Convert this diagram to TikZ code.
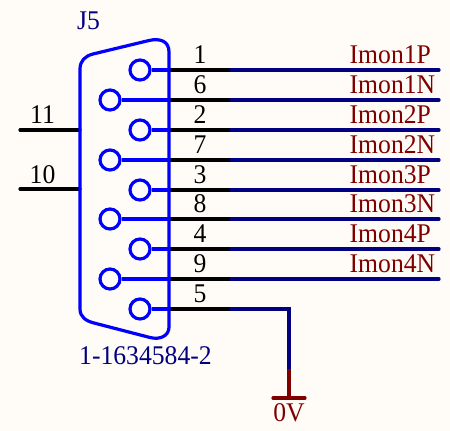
\documentclass[tikz,border=0pt]{standalone}
\usepackage{fontspec}
\setmainfont[FakeStretch=0.95]{Liberation Serif}
\definecolor{bgc}{HTML}{FFFCF8}
\definecolor{pinblue}{HTML}{0000FF}
\definecolor{wireblue}{HTML}{000080}
\definecolor{netred}{HTML}{800000}
\tikzset{
  bodyline/.style={draw=pinblue,line width=3.2pt,line join=round},
  pinhole/.style={circle,draw=pinblue,line width=3.2pt,fill=none,minimum size=20pt,inner sep=0pt},
  pinwire/.style={draw=pinblue,line width=3.2pt},
  stub/.style={draw=black,line width=3.2pt},
  wire/.style={draw=wireblue,line width=3.2pt},
  rwire/.style={draw=netred,line width=3.2pt},
  txt/.style={font=\fontsize{27}{27}\selectfont,inner sep=0pt,text height=17pt,text depth=0pt},
  pinnum/.style={txt,text=black,anchor=south},
  netlab/.style={txt,text=netred,anchor=south west},
  partlab/.style={txt,text=wireblue,anchor=south west},
}
\begin{document}
\begin{tikzpicture}[x=1pt,y=-1pt]
\useasboundingbox (0,0) rectangle (450,431);
\fill[bgc] (0,0) rectangle (450,431);
% pins: name, hole x, y, label, net
\foreach \n/\hx/\y/\lab/\net in {
  1/140/70/1/Imon1P, 6/110/100/6/Imon1N, 2/140/130/2/Imon2P, 7/110/160/7/Imon2N,
  3/140/190/3/Imon3P, 8/110/219/8/Imon3N, 4/140/249/4/Imon4P, 9/110/279/9/Imon4N}{
  \node[pinhole] (h\n) at (\hx,\y) {};
  \coordinate (e\n) at (169,\y);
  \coordinate (s\n) at (230,\y);
  \coordinate (w\n) at (439,\y);
  \draw[wire,line cap=round] (s\n) -- (w\n);
  \draw[stub] (e\n) -- (s\n);
  \draw[pinwire] (h\n.east) -- (e\n);
  \node[pinnum] (l\n) at (200,\y-6.5) {\lab};
  \node[netlab] (n\n) at (349.5,\y-6.5) {\net};
}
% pin 5 to ground
\node[pinhole] (h5) at (140,309) {};
\coordinate (e5) at (169,309);
\coordinate (s5) at (230,309);
\coordinate (c5) at (289,309);
\coordinate (g5) at (289,369);
\coordinate (gt) at (289,398);
\coordinate (gl) at (273,398);
\coordinate (gr) at (305,398);
\draw[wire,line join=miter] (s5) -- (c5) -- (g5);
\draw[stub] (e5) -- (s5);
\draw[pinwire] (h5.east) -- (e5);
\node[pinnum] (l5) at (200,302.5) {5};
\draw[rwire] (g5) -- (gt);
\draw[rwire,line cap=round] (gl) -- (gr);
\node[txt,text=netred,anchor=south] (gnd) at (289,421.5) {0V};
% outer pins
\coordinate (o11) at (20,130);
\coordinate (b11) at (80,130);
\coordinate (o10) at (20,189);
\coordinate (b10) at (80,189);
\draw[stub,line cap=round] (o11) -- (b11);
\draw[stub,line cap=round] (o10) -- (b10);
\node[pinnum] (l11) at (42.5,123.5) {11};
\node[pinnum] (l10) at (42.5,183.5) {10};
% connector shell
\draw[bodyline] (80,69) .. controls (80,61) and (85,56) .. (93,54)
  -- (149,40.5) .. controls (160,38) and (169,41) .. (169,52)
  -- (169,327) .. controls (169,336) and (160,340) .. (150,337.5)
  -- (94,323) .. controls (86,321) and (80,317) .. (80,309) -- cycle;
\node[partlab] (ref) at (77,30) {J5};
\node[partlab] (part) at (79,365) {1-1634584-2};
\end{tikzpicture}
\end{document}
